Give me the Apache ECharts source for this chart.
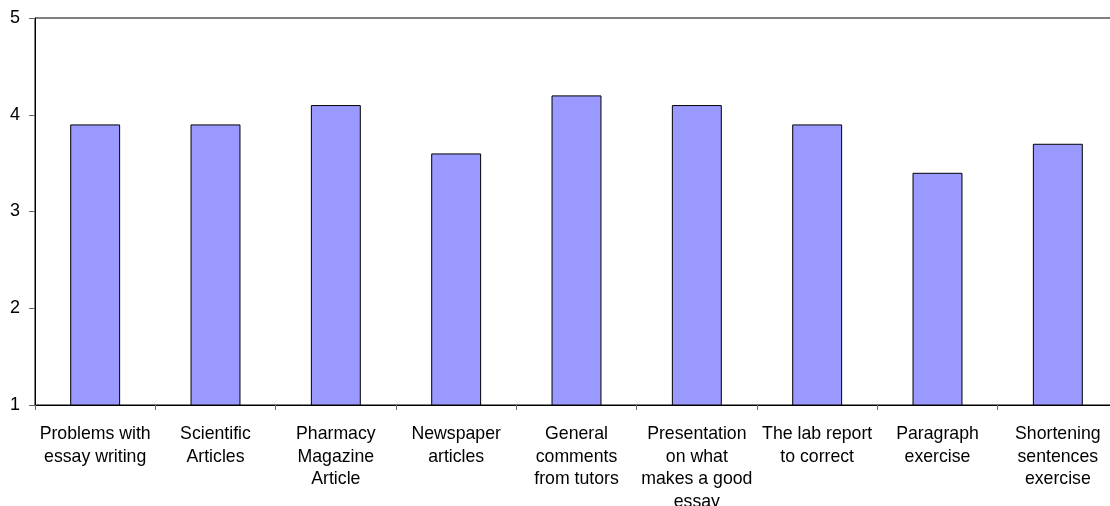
<!DOCTYPE html>
<html>
<head>
<meta charset="utf-8">
<script src="https://cdn.jsdelivr.net/npm/echarts@6/dist/echarts.min.js"></script>
<style>
html,body{margin:0;padding:0;background:#fff;}
#chart{width:1110px;height:506px;}
</style>
</head>
<body>
<div id="chart"></div>
<script>
const categories = [
  "Problems with\nessay writing",
  "Scientific\nArticles",
  "Pharmacy\nMagazine\nArticle",
  "Newspaper\narticles",
  "General\ncomments\nfrom tutors",
  "Presentation\non what\nmakes a good\nessay",
  "The lab report\nto correct",
  "Paragraph\nexercise",
  "Shortening\nsentences\nexercise"
];
const values = [3.9, 3.9, 4.1, 3.6, 4.2, 4.1, 3.9, 3.4, 3.7];
const yTicks = { min: 1, max: 5, interval: 1 };

const chart = echarts.init(document.getElementById('chart'));
chart.setOption({
  animation: false,
  backgroundColor: '#ffffff',
  textStyle: { fontFamily: '"Liberation Sans", Arial, sans-serif' },
  grid: {
    left: 35, top: 18, width: 1083, height: 387,
    outerBoundsMode: 'none', containLabel: false,
    show: true, borderColor: '#000', borderWidth: 1, backgroundColor: 'transparent'
  },
  xAxis: {
    type: 'category',
    data: categories,
    axisLine: { lineStyle: { color: '#000', width: 1 } },
    axisTick: { show: true, inside: false, length: 5, lineStyle: { color: '#666' } },
    axisLabel: {
      interval: 0, color: '#000', fontSize: 17.7, lineHeight: 22.5, margin: 18,
      fontFamily: '"Liberation Sans", Arial, sans-serif', align: 'center'
    },
    splitLine: { show: false }
  },
  yAxis: {
    type: 'value',
    min: yTicks.min, max: yTicks.max, interval: yTicks.interval,
    axisLine: { show: true, lineStyle: { color: '#000', width: 1 } },
    axisTick: { show: true, inside: false, length: 6, lineStyle: { color: '#666' } },
    axisLabel: { color: '#000', fontSize: 18, margin: 15, fontFamily: '"Liberation Sans", Arial, sans-serif' },
    splitLine: { show: false }
  },
  series: [{
    type: 'bar',
    data: values,
    barWidth: '41.5%',
    itemStyle: { color: '#9999FF', borderColor: '#000', borderWidth: 1 }
  }]
});
</script>
</body>
</html>
